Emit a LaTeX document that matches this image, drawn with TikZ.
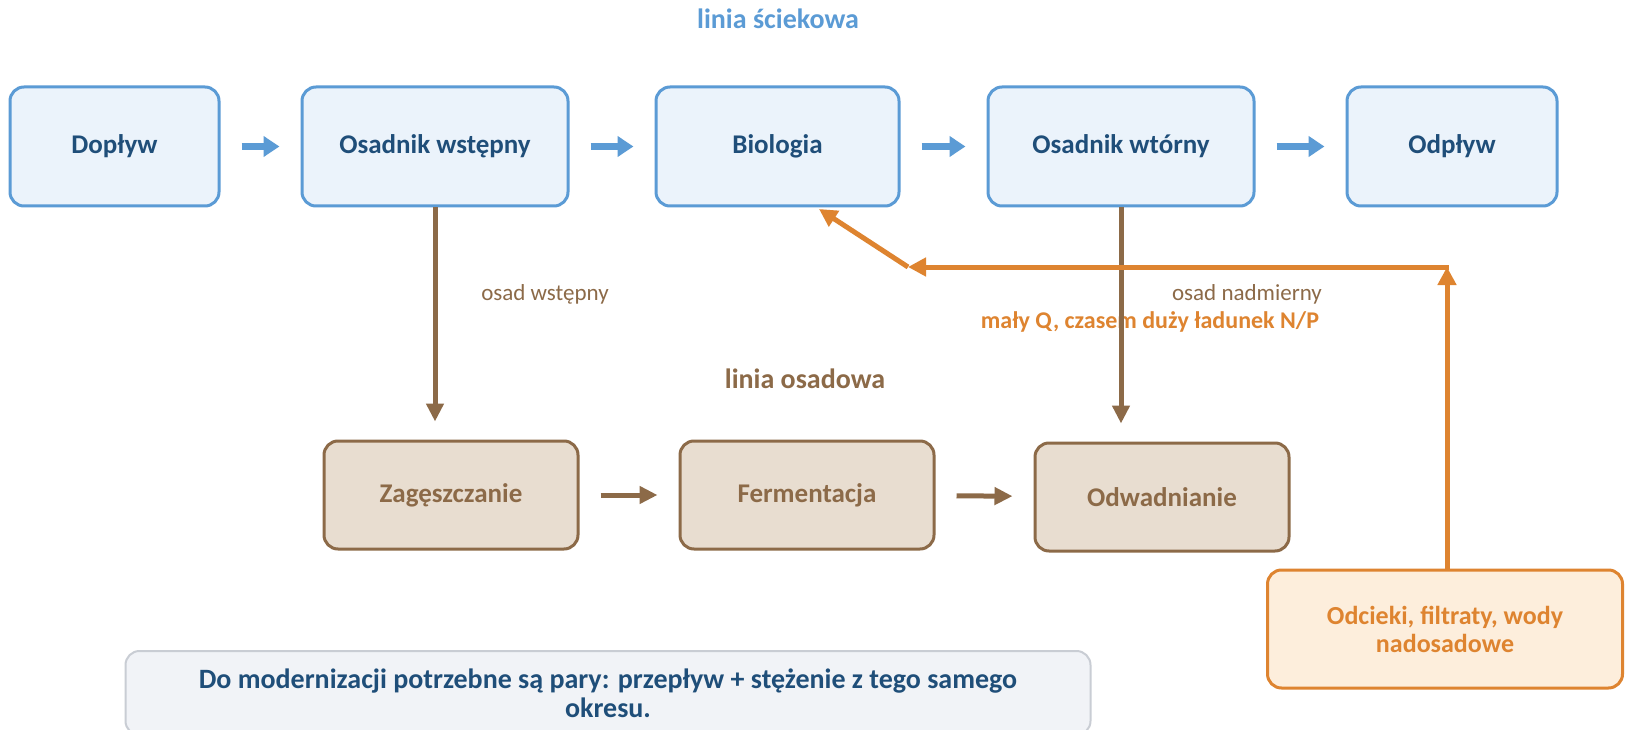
\documentclass[tikz,border=0pt]{standalone}
\usepackage{fontspec}
\setmainfont{Carlito}
\usetikzlibrary{arrows.meta}
\definecolor{bblue}{HTML}{5B9BD5}
\definecolor{bfill}{HTML}{EBF3FB}
\definecolor{btext}{HTML}{1F4E79}
\definecolor{brn}{HTML}{8C6A48}
\definecolor{brnfill}{HTML}{E8DDD0}
\definecolor{org}{HTML}{DE8430}
\definecolor{orgfill}{HTML}{FDEEDC}
\definecolor{notefill}{HTML}{F1F3F7}
\definecolor{notedraw}{HTML}{C9CDD4}
\begin{document}
\begin{tikzpicture}[x=1pt,y=-1pt,
  bluebox/.style={draw=bblue, fill=bfill, line width=3pt, rounded corners=14pt,
    minimum height=119pt, text=btext, font=\fontsize{27}{32}\selectfont\bfseries, inner sep=0pt},
  brnbox/.style={draw=brn, fill=brnfill, line width=3pt, rounded corners=14pt,
    minimum height=108pt, minimum width=254pt, text=brn, font=\fontsize{27}{32}\selectfont\bfseries, inner sep=0pt},
  orgbox/.style={draw=org, fill=orgfill, line width=3pt, rounded corners=14pt,
    minimum height=118pt, minimum width=355pt, text=org, align=center,
    font=\fontsize{26}{28}\selectfont\bfseries, inner sep=0pt},
  notebox/.style={draw=notedraw, fill=notefill, line width=2pt, rounded corners=14pt,
    minimum height=84pt, minimum width=965pt, text=btext, align=center,
    font=\fontsize{28}{29}\selectfont\bfseries, inner sep=0pt},
  bluearrow/.style={draw=bblue, line width=7pt, -{Triangle[length=16pt,width=20pt]},
    shorten <=21pt, shorten >=21pt},
  brnarrow/.style={draw=brn, line width=5pt, -{Triangle[length=18pt,width=17pt]}},
  orgarrow/.style={draw=org, line width=5pt, -{Triangle[length=18pt,width=18pt]}},
  lbl/.style={font=\fontsize{23}{26}\selectfont, text=brn, inner sep=0pt},
  ttl/.style={font=\fontsize{28}{32}\selectfont\bfseries, inner sep=0pt},
]
\clip (0,0) rectangle (1625,730);
\fill[white] (0,0) rectangle (1625,730);

\node[ttl, text=bblue] (t1) at (778,19) {linia ściekowa};
\node[ttl, text=brn] (t2) at (805,379) {linia osadowa};

\node[bluebox, minimum width=209pt] (dop) at (114.5,146.5) {Dopływ};
\node[bluebox, minimum width=266pt] (osw) at (435,146.5) {Osadnik wstępny};
\node[bluebox, minimum width=243pt] (bio) at (777.5,146.5) {Biologia};
\node[bluebox, minimum width=266pt] (owt) at (1121,146.5) {Osadnik wtórny};
\node[bluebox, minimum width=210pt] (odp) at (1452,146.5) {Odpływ};

\node[brnbox] (zag) at (451,495) {Zagęszczanie};
\node[brnbox] (fer) at (807,495) {Fermentacja};
\node[brnbox] (odw) at (1162,497) {Odwadnianie};

\node[orgbox] (odc) at (1445,629) {Odcieki, filtraty, wody\\nadosadowe};
\node[notebox] (note) at (608,693) {Do modernizacji potrzebne są pary: przepływ + stężenie z tego samego\\okresu.};

\node[lbl] (l1) at (545,294) {osad wstępny};
\node[lbl] (l2) at (1247,294) {osad nadmierny};
\node[font=\fontsize{24}{26}\selectfont\bfseries, text=org, inner sep=0pt] (l3) at (1150,322) {mały Q, czasem duży ładunek N/P};

\draw[bluearrow] (dop) -- (osw);
\draw[bluearrow] (osw) -- (bio);
\draw[bluearrow] (bio) -- (owt);
\draw[bluearrow] (owt) -- (odp);

\draw[brnarrow, shorten <=21pt, shorten >=21pt] (zag) -- (fer);
\draw[brnarrow, shorten <=21pt, shorten >=21pt] (fer) -- (odw);
\draw[brnarrow, shorten >=18pt] (osw.south) -- (osw.south |- zag.north);
\draw[brnarrow, shorten >=18pt] (owt.south) -- (owt.south |- odw.north);

\coordinate (c1) at (1447,267);
\coordinate (c2) at (908,267);
\coordinate (bt) at (819,209);
\draw[orgarrow] (odc.north -| c1) -- (c1);
\draw[orgarrow, shorten <=-2pt] (c1) -- (c2);
\draw[orgarrow] (c2) -- (bt);
\end{tikzpicture}
\end{document}
